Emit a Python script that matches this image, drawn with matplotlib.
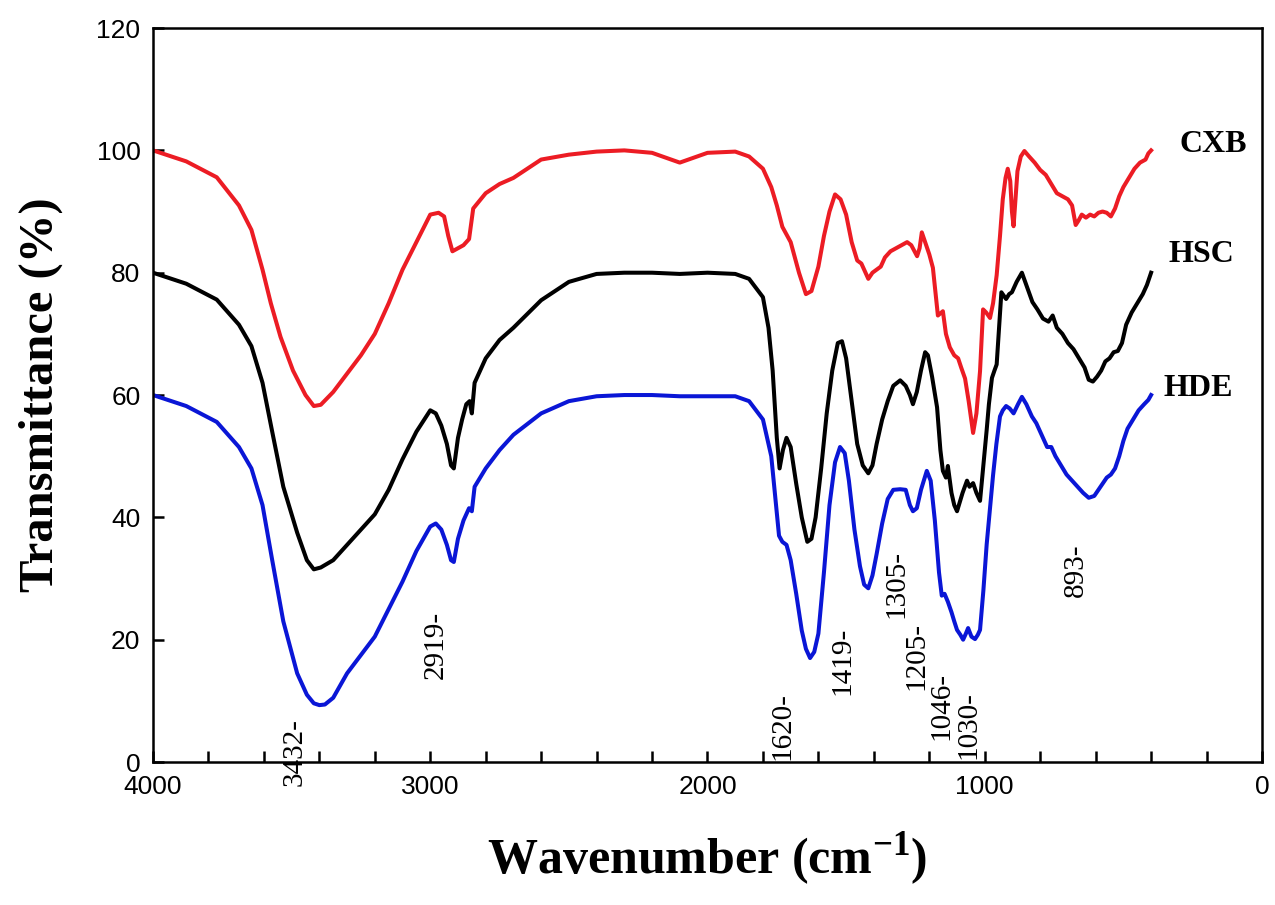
import numpy as np
import matplotlib.pyplot as plt
from matplotlib.ticker import MultipleLocator

plt.rcParams['mathtext.fontset'] = 'custom'
plt.rcParams['mathtext.rm'] = 'Liberation Serif'
plt.rcParams['mathtext.bf'] = 'Liberation Serif:bold'

# --- CXB (red) ---
cxb_wn = [4000, 3880, 3770, 3690, 3645, 3605, 3575, 3540, 3495, 3450, 3420, 3395, 3350, 3300, 3250,
          3200, 3150, 3100, 3050, 3000, 2970, 2950, 2935, 2920, 2900, 2880, 2860, 2845, 2800,
          2750, 2700, 2600, 2500, 2400, 2300, 2200, 2150, 2100, 2050, 2000, 1900, 1850, 1800,
          1770, 1750, 1730, 1700, 1670, 1645, 1625, 1600, 1580, 1560, 1540, 1520, 1500, 1480,
          1460, 1445, 1430, 1420, 1405, 1390, 1375, 1360, 1340, 1320, 1300, 1280, 1265, 1244,
          1235, 1227, 1215, 1200, 1187, 1169, 1151, 1140, 1126, 1110, 1096, 1085, 1071, 1058,
          1042, 1030, 1017, 1006, 995, 981, 970, 957, 945, 935, 925, 917, 908, 902,
          896, 889, 882, 870, 857, 840, 820, 800, 780, 760, 740, 720, 700, 685, 672,
          662, 650, 635, 620, 605, 590, 575, 560, 545, 530, 515, 500, 480, 460, 440, 420,
          410, 400]
cxb_t = [100, 98.2, 95.6, 91, 87, 80.5, 75, 69.5, 64, 60, 58.2, 58.4, 60.5, 63.5, 66.5,
         70, 75, 80.5, 85, 89.5, 89.8, 89.2, 86, 83.5, 84, 84.5, 85.5, 90.5, 93,
         94.5, 95.5, 98.5, 99.3, 99.8, 100, 99.6, 98.8, 98, 98.8, 99.6, 99.8, 99, 97,
         94, 91, 87.5, 85, 80, 76.5, 77, 81, 86, 90, 92.8, 92, 89.5, 85,
         82, 81.5, 80, 79, 80, 80.5, 81, 82.5, 83.5, 84, 84.5, 85, 84.5, 82.7,
         84, 86.6, 85, 83, 80.8, 73, 73.7, 70, 67.8, 66.5, 66, 64.5, 62.7, 59,
         53.8, 57, 63.9, 74, 73.5, 72.6, 75, 79.6, 86, 92, 95.5, 97, 95, 90,
         87.6, 92, 96.6, 99, 99.9, 99, 98, 96.8, 96, 94.5, 93, 92.5, 92, 91, 87.8,
         88.5, 89.5, 89, 89.5, 89.2, 89.8, 90, 89.8, 89.2, 90.5, 92.5, 94, 95.5, 97, 98, 98.5,
         99.5, 100]

# --- HSC (black) ---
hsc_wn = [4000, 3880, 3770, 3690, 3645, 3605, 3570, 3530, 3480, 3445, 3420, 3395, 3350, 3300, 3250,
          3200, 3150, 3100, 3050, 3000, 2980, 2960, 2940, 2925, 2915, 2900, 2885, 2870, 2858,
          2850, 2840, 2800, 2750, 2700, 2600, 2500, 2400, 2300, 2200, 2100, 2000, 1900, 1850,
          1800, 1780, 1765, 1750, 1740, 1728, 1715, 1700, 1680, 1660, 1640, 1625, 1610, 1590,
          1570, 1550, 1530, 1515, 1500, 1480, 1460, 1440, 1420, 1405, 1390, 1370, 1350, 1330,
          1305, 1285, 1270, 1259, 1245, 1230, 1215, 1205, 1190, 1172, 1160, 1151, 1140, 1133,
          1120, 1110, 1100, 1090, 1080, 1064, 1055, 1042, 1030, 1017, 1005, 993, 985, 974,
          965, 957, 947, 940, 923, 912, 902, 885, 866, 850, 828, 810, 790, 770, 755, 740,
          720, 700, 680, 660, 640, 625, 610, 595, 580, 565, 550, 535, 520, 505,
          490, 470, 450, 430, 415, 400]
hsc_t = [80, 78.2, 75.6, 71.5, 68, 62, 54, 45, 37.5, 33, 31.5, 31.8, 33, 35.5, 38,
         40.5, 44.5, 49.5, 54, 57.5, 57, 55, 52, 48.5, 48, 53, 56, 58.5, 59,
         57, 62, 66, 69, 71, 75.5, 78.5, 79.8, 80, 80, 79.8, 80, 79.8, 79,
         76, 71, 64, 53, 48, 51, 53, 51.5, 45.5, 40, 36, 36.5, 40, 48,
         57, 64, 68.5, 68.8, 66, 59, 52, 48.5, 47.2, 48.5, 52, 56, 59, 61.5,
         62.4, 61.5, 60, 58.5, 60.5, 64, 67, 66.5, 63, 58, 51, 47.6, 46.5, 48.4,
         44, 42, 41, 42.5, 44, 46, 45, 45.6, 44, 42.7, 48.5, 54.3, 58.5, 62.8,
         64, 65, 72, 76.8, 75.7, 76.5, 76.8, 78.5, 80, 78, 75.2, 74, 72.5, 72, 73, 71,
         70, 68.5, 67.5, 66, 64.5, 62.5, 62.2, 63, 64, 65.5, 66, 67, 67.2, 68.5,
         71.5, 73.5, 75, 76.5, 78, 80]

# --- HDE (blue) ---
hde_wn = [4000, 3880, 3770, 3690, 3645, 3605, 3570, 3530, 3480, 3445, 3420, 3400, 3380, 3350, 3300,
          3250, 3200, 3150, 3100, 3050, 3000, 2980, 2960, 2940, 2925, 2915, 2900, 2880, 2860,
          2850, 2840, 2800, 2750, 2700, 2600, 2500, 2400, 2300, 2200, 2100, 2000, 1900, 1850,
          1800, 1770, 1755, 1742, 1730, 1715, 1700, 1680, 1660, 1645, 1630, 1615, 1600, 1580,
          1560, 1540, 1522, 1505, 1490, 1470, 1450, 1435, 1420, 1405, 1390, 1370, 1350, 1330,
          1305, 1285, 1270, 1259, 1245, 1230, 1209, 1195, 1180, 1165, 1155, 1145, 1133, 1120,
          1110, 1100, 1088, 1078, 1068, 1060, 1048, 1035, 1025, 1017, 1005, 993, 980, 970,
          958, 945, 935, 923, 910, 896, 880, 866, 850, 830, 814, 795, 775, 760, 745,
          725, 705, 685, 665, 645, 625, 605, 590, 575, 560, 545, 530, 515, 500, 485, 465,
          445, 425, 410, 400]
hde_t = [60, 58.2, 55.6, 51.5, 48, 42, 33, 23, 14.5, 11, 9.6, 9.3, 9.4, 10.5, 14.5,
         17.5, 20.5, 25, 29.5, 34.5, 38.5, 39, 38, 35.5, 33, 32.7, 36.5, 39.5, 41.5,
         41, 45, 48, 51, 53.5, 57, 59, 59.8, 60, 60, 59.8, 59.8, 59.8, 59,
         56, 50, 43, 37, 36, 35.5, 33, 27.5, 21.5, 18.5, 17, 18, 21, 31,
         42, 49, 51.5, 50.5, 46, 38, 32, 29, 28.4, 30.5, 34, 39, 43, 44.5,
         44.6, 44.5, 42, 41, 41.5, 44.5, 47.6, 46, 39.5, 31, 27.2, 27.5, 26.2, 24.5,
         23, 21.6, 20.8, 20, 21, 21.9, 20.5, 20.1, 20.8, 21.6, 28, 35.6, 42, 46.9,
         52, 56.5, 57.5, 58.2, 57.8, 57, 58.5, 59.7, 58.5, 56.5, 55.4, 53.5, 51.5, 51.5, 50,
         48.5, 47, 46, 45, 44, 43.2, 43.5, 44.5, 45.5, 46.5, 47, 48, 50, 52.5, 54.5, 56,
         57.5, 58.5, 59.2, 60]

series = [("CXB", cxb_wn, cxb_t, "#ec1c24"),
          ("HSC", hsc_wn, hsc_t, "#000000"),
          ("HDE", hde_wn, hde_t, "#0a16d6")]

# curve name labels (wavenumber, transmittance)
name_pos = {"CXB": (296, 100.9), "HSC": (339, 83), "HDE": (357, 61.1)}

# peak annotations: text, x position, bottom of text
peak_labels = ["3432-", "2919-", "1620-", "1419-", "1305-", "1205-", "1046-", "1030-", "893-"]
peak_x = [3490, 2980, 1728, 1512, 1318, 1248, 1158, 1060, 670]
peak_y = [-4, 13.5, 0.3, 11, 23.5, 11.8, 3.6, 0.5, 27]

fig = plt.figure(figsize=(12.75, 9.05), dpi=100)
ax = fig.add_axes([0.12, 0.158, 0.8698, 0.811])

for name, wn, t, c in series:
    ax.plot(wn, t, color=c, lw=2.9, solid_joinstyle='round')
    ax.text(name_pos[name][0], name_pos[name][1], name, fontsize=23, fontweight='bold',
            family='Liberation Serif', ha='left', va='center')

for lab, x, y in zip(peak_labels, peak_x, peak_y):
    ax.text(x, y, lab, rotation=90, fontsize=21, family='Liberation Serif',
            ha='center', va='bottom', clip_on=False)

ax.set_xlim(4000, 0)
ax.set_ylim(0, 120)
ax.xaxis.set_major_locator(MultipleLocator(1000))
ax.xaxis.set_minor_locator(MultipleLocator(200))
ax.yaxis.set_major_locator(MultipleLocator(20))
ax.tick_params(axis='both', which='both', direction='in', width=1.8,
               top=False, right=False, labelsize=19, pad=9)
ax.tick_params(axis='both', which='major', length=8)
ax.tick_params(axis='x', which='minor', length=8)
for lbl in ax.get_xticklabels() + ax.get_yticklabels():
    lbl.set_family('Liberation Sans')
for s in ax.spines.values():
    s.set_linewidth(1.8)

ax.set_ylabel("Transmittance (%)", fontsize=35, fontweight='bold',
              family='Liberation Serif', labelpad=24)
ax.set_xlabel(r"Wavenumber (cm$^{\mathbf{-1}}$)", fontsize=36, fontweight='bold',
              family='Liberation Serif', labelpad=22)

fig.savefig("out.png", dpi=100)
